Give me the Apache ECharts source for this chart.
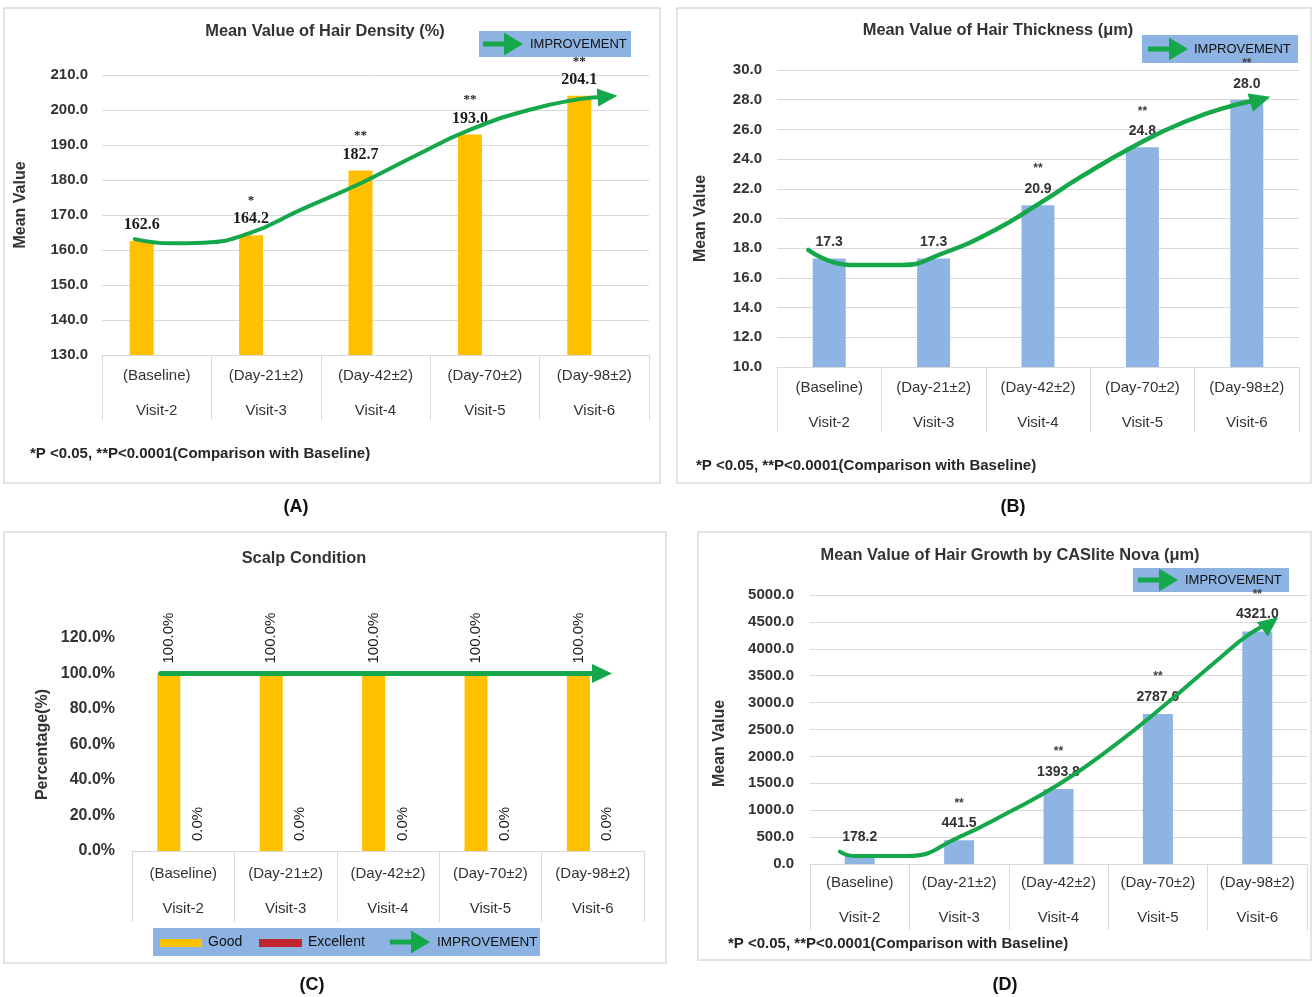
<!DOCTYPE html>
<html>
<head>
<meta charset="utf-8">
<script src="https://cdn.jsdelivr.net/npm/echarts@6/dist/echarts.min.js"></script>
<style>
  html, body { margin: 0; padding: 0; background: #ffffff; }
  #chart { width: 1312px; height: 997px; }
</style>
</head>
<body>
<div id="chart"></div>
<script>
// ---- data ----
const visits  = ['Visit-2', 'Visit-3', 'Visit-4', 'Visit-5', 'Visit-6'];
const periods = ['(Baseline)', '(Day-21±2)', '(Day-42±2)', '(Day-70±2)', '(Day-98±2)'];

// (A) hair density, %
const densityValues = [162.6, 164.2, 182.7, 193.0, 204.1];
const densitySig    = ['', '*', '**', '**', '**'];
// hand-drawn trend arrow: [visit position, value]
const densityTrend  = [[-0.2, 163.1], [0.13, 161.9], [0.43, 162.1], [0.85, 164.8], [1.31, 171.4],
                       [1.86, 179.0], [2.35, 186.7], [2.86, 194.3], [3.40, 200.0], [3.86, 203.1], [4.12, 203.8]];

// (B) hair thickness, µm
const thicknessValues = [17.3, 17.3, 20.9, 24.8, 28.0];
const thicknessSig    = ['', '', '**', '**', '**'];
const thicknessTrend  = [[-0.2, 17.88], [0.2, 16.87], [0.69, 16.87], [1.09, 17.66], [1.58, 19.2],
                         [2.01, 21.0], [2.41, 22.8], [2.94, 24.95], [3.40, 26.5], [3.86, 27.6], [4.13, 28.0]];

// (C) scalp condition, % of subjects
const scalpGood      = [100, 100, 100, 100, 100];
const scalpExcellent = [0, 0, 0, 0, 0];
const scalpTrend     = [[-0.22, 100], [4.09, 100]];

// (D) hair growth, µm
const growthValues = [178.2, 441.5, 1393.8, 2787.0, 4321.0];
const growthSig    = ['', '**', '**', '**', '**'];
const growthTrend  = [[-0.2, 229], [-0.06, 149], [0.48, 149], [1.01, 508], [1.48, 942], [2.02, 1500],
                      [2.59, 2243], [3.09, 2987], [3.60, 3792], [3.93, 4288], [4.13, 4474]];

// ---- styling ----
const SANS  = "'Liberation Sans', Arial, sans-serif";
const SERIF = "'Liberation Serif', 'Times New Roman', serif";
const GREEN = '#14a84a';
const GOLD  = '#ffc000';
const RED   = '#c0272d';
const BLUE  = '#8eb4e3';
const BOX   = '#8db3e2';
const GRID  = '#d9d9d9';
const TXT   = '#333333';

function catAxis(g, tickLen, margin) {
  return {
    type: 'category', gridIndex: g, boundaryGap: true,
    data: periods.map((p, k) => p + '\n' + visits[k]),
    axisLine: { show: true, lineStyle: { color: GRID, width: 1 } },
    axisTick: { show: true, interval: 0, length: tickLen, lineStyle: { color: GRID, width: 1 } },
    axisLabel: { interval: 0, margin: margin, color: TXT, fontSize: 15, lineHeight: 35, fontFamily: SANS },
    splitLine: { show: false }
  };
}
function trendAxis(g) {
  return { type: 'value', gridIndex: g, min: -0.5, max: 4.5, show: false };
}
function valAxis(g, min, max, interval, fmt, name, nameGap, namePad, labelSize, margin, split) {
  return {
    type: 'value', gridIndex: g, min: min, max: max, interval: interval,
    axisLine: { show: false }, axisTick: { show: false },
    splitLine: { show: split, lineStyle: { color: GRID, width: 1 } },
    axisLabel: { formatter: fmt, color: TXT, fontSize: labelSize, fontWeight: 'bold', margin: margin, fontFamily: SANS },
    name: name, nameLocation: 'middle', nameGap: nameGap,
    nameTextStyle: { fontSize: 16, fontWeight: 'bold', color: TXT, fontFamily: SANS, padding: namePad }
  };
}
function sigLabel(sig) {
  return function (p) {
    const s = sig[p.dataIndex];
    const v = '{v|' + p.value.toFixed(1) + '}';
    return s ? '{s|' + s + '}\n' + v : v;
  };
}
function trendSeries(g, pts, rot, size, width) {
  return {
    type: 'line', xAxisIndex: 2 * g + 1, yAxisIndex: g, smooth: 0.5, z: 10, silent: true,
    lineStyle: { color: GREEN, width: width, cap: 'round' },
    itemStyle: { color: GREEN },
    data: pts.map((pt, k) => k === pts.length - 1
      ? { value: pt, symbol: 'triangle', symbolSize: size, symbolRotate: rot, itemStyle: { color: GREEN, borderWidth: 0 } }
      : { value: pt, symbol: 'none' })
  };
}
function arrowPoints(ax, cy, len, headLen, headH, shaft) {
  const hx = ax + len - headLen;
  return [[ax, cy - shaft / 2], [hx, cy - shaft / 2], [hx, cy - headH / 2], [ax + len, cy],
          [hx, cy + headH / 2], [hx, cy + shaft / 2], [ax, cy + shaft / 2]];
}
function improvementBox(x, y, w, h, arrowLeft, textLeft) {
  return {
    type: 'group', x: x, y: y, z: 100,
    children: [
      { type: 'rect', shape: { x: 0, y: 0, width: w, height: h }, style: { fill: BOX } },
      { type: 'polygon', shape: { points: arrowPoints(arrowLeft, h / 2, 40, 19, 23, 5) }, style: { fill: GREEN } },
      { type: 'text', x: textLeft, y: h / 2,
        style: { text: 'IMPROVEMENT', fontSize: 13, fill: '#111111', verticalAlign: 'middle', fontFamily: SANS } }
    ]
  };
}
function frame(x, y, w, h) {
  return { type: 'rect', z: 0, shape: { x: x, y: y, width: w, height: h },
           style: { fill: null, stroke: '#dcdcdc', lineWidth: 1.5 } };
}
function heading(text, cx, cy, size, align, color) {
  return {
    text: text, left: cx, top: cy - (size + 4) / 2, textAlign: align || 'center', padding: 0,
    textStyle: { fontSize: size, fontWeight: 'bold', color: color || '#333333', fontFamily: SANS, lineHeight: size + 4 }
  };
}

const footnote = '*P <0.05, **P<0.0001(Comparison with Baseline)';

const option = {
  animation: false,
  backgroundColor: '#ffffff',
  textStyle: { fontFamily: SANS },
  title: [
    heading('Mean Value of Hair Density (%)', 325, 31, 16.4),
    heading('Mean Value of Hair Thickness (μm)', 998, 30, 16.4),
    heading('Scalp Condition', 304, 558, 16.4),
    heading('Mean Value of Hair Growth by CASlite Nova (μm)', 1010, 555, 16.4),
    heading(footnote, 30, 454, 15, 'left', '#262626'),
    heading(footnote, 696, 466, 15, 'left', '#262626'),
    heading(footnote, 728, 944, 15, 'left', '#262626'),
    heading('(A)', 296, 507, 18, 'center', '#111111'),
    heading('(B)', 1013, 507, 18, 'center', '#111111'),
    heading('(C)', 312, 985, 18, 'center', '#111111'),
    heading('(D)', 1005, 985, 18, 'center', '#111111')
  ],
  grid: [
    { left: 102, top: 75,  width: 547, height: 280 },
    { left: 777, top: 70,  width: 522, height: 297 },
    { left: 132, top: 638, width: 512, height: 213 },
    { left: 810, top: 595, width: 497, height: 269 }
  ],
  xAxis: [
    catAxis(0, 65, 3), trendAxis(0),
    catAxis(1, 65, 3), trendAxis(1),
    catAxis(2, 71, 5), trendAxis(2),
    catAxis(3, 66, 1), trendAxis(3)
  ],
  yAxis: [
    valAxis(0, 130, 210, 10, v => v.toFixed(1), 'Mean Value', 73, [0, 0, 0, 20], 15, 14, true),
    valAxis(1, 10, 30, 2, v => v.toFixed(1), 'Mean Value', 68, [0, 0, 0, 0], 15, 15, true),
    valAxis(2, 0, 120, 20, v => v.toFixed(1) + '%', 'Percentage(%)', 81, [0, 0, 0, 0], 16, 17, false),
    valAxis(3, 0, 5000, 500, v => v.toFixed(1), 'Mean Value', 82, [0, 28, 0, 0], 15, 16, true)
  ],
  series: [
    // (A)
    {
      name: 'Hair Density', type: 'bar', xAxisIndex: 0, yAxisIndex: 0, data: densityValues,
      barWidth: 24, barGap: '25%', itemStyle: { color: GOLD },
      label: {
        show: true, position: 'top', distance: 7, formatter: sigLabel(densitySig),
        rich: {
          s: { fontFamily: SERIF, fontWeight: 'bold', fontSize: 13, lineHeight: 19, color: '#1a1a1a' },
          v: { fontFamily: SERIF, fontWeight: 'bold', fontSize: 16, lineHeight: 18, color: '#1a1a1a' }
        }
      }
    },
    { name: 'placeholder', type: 'bar', xAxisIndex: 0, yAxisIndex: 0, data: [], barWidth: 24 },
    trendSeries(0, densityTrend, -85, [18, 20], 4),
    // (B)
    {
      name: 'Hair Thickness', type: 'bar', xAxisIndex: 2, yAxisIndex: 1, data: thicknessValues,
      barWidth: 33, itemStyle: { color: BLUE },
      label: {
        show: true, position: 'top', distance: 7, formatter: sigLabel(thicknessSig),
        rich: {
          s: { fontFamily: SANS, fontWeight: 'bold', fontSize: 12, lineHeight: 22, color: '#404040' },
          v: { fontFamily: SANS, fontWeight: 'bold', fontSize: 14, lineHeight: 18, color: '#333' }
        }
      }
    },
    trendSeries(1, thicknessTrend, -74, [19, 21], 4.5),
    // (C)
    {
      name: 'Good', type: 'bar', xAxisIndex: 4, yAxisIndex: 2, data: scalpGood,
      barWidth: 23, barGap: '25%', itemStyle: { color: GOLD },
      label: {
        show: true, position: 'top', distance: 10, rotate: 90, align: 'left', verticalAlign: 'middle',
        formatter: p => p.value.toFixed(1) + '%', fontSize: 15, color: '#1a1a1a', fontFamily: SANS
      }
    },
    {
      name: 'Excellent', type: 'bar', xAxisIndex: 4, yAxisIndex: 2, data: scalpExcellent,
      barWidth: 23, itemStyle: { color: RED },
      label: {
        show: true, position: 'top', distance: 10, rotate: 90, align: 'left', verticalAlign: 'middle',
        formatter: p => p.value.toFixed(1) + '%', fontSize: 15, color: '#1a1a1a', fontFamily: SANS
      }
    },
    trendSeries(2, scalpTrend, -90, [19, 20], 5),
    // (D)
    {
      name: 'Hair Growth', type: 'bar', xAxisIndex: 6, yAxisIndex: 3, data: growthValues,
      barWidth: 30, itemStyle: { color: BLUE },
      label: {
        show: true, position: 'top', distance: 8, formatter: sigLabel(growthSig),
        rich: {
          s: { fontFamily: SANS, fontWeight: 'bold', fontSize: 12, lineHeight: 22, color: '#404040' },
          v: { fontFamily: SANS, fontWeight: 'bold', fontSize: 14, lineHeight: 18, color: '#333' }
        }
      }
    },
    trendSeries(3, growthTrend, -52, [18, 20], 4)
  ],
  graphic: {
    elements: [
      frame(4, 8, 656, 475),
      frame(677, 8, 634, 475),
      frame(4, 532, 662, 431),
      frame(698, 532, 613, 428),
      improvementBox(479, 31, 152, 26, 4, 51),
      improvementBox(1142, 35, 156, 28, 6, 52),
      improvementBox(1133, 568, 156, 24, 5, 52),
      {
        type: 'group', x: 153, y: 928, z: 100,
        children: [
          { type: 'rect', shape: { x: 0, y: 0, width: 387, height: 28 }, style: { fill: BOX } },
          { type: 'rect', shape: { x: 7, y: 11, width: 42, height: 8 }, style: { fill: GOLD } },
          { type: 'text', x: 55, y: 14, style: { text: 'Good', fontSize: 14, fill: '#111111', verticalAlign: 'middle', fontFamily: SANS } },
          { type: 'rect', shape: { x: 106, y: 11, width: 43, height: 8 }, style: { fill: RED } },
          { type: 'text', x: 155, y: 14, style: { text: 'Excellent', fontSize: 14, fill: '#111111', verticalAlign: 'middle', fontFamily: SANS } },
          { type: 'polygon', shape: { points: arrowPoints(237, 14, 40, 19, 23, 5) }, style: { fill: GREEN } },
          { type: 'text', x: 284, y: 14, style: { text: 'IMPROVEMENT', fontSize: 13.5, fill: '#111111', verticalAlign: 'middle', fontFamily: SANS } }
        ]
      }
    ]
  }
};

const chart = echarts.init(document.getElementById('chart'), null, { renderer: 'canvas' });
chart.setOption(option);
</script>
</body>
</html>
